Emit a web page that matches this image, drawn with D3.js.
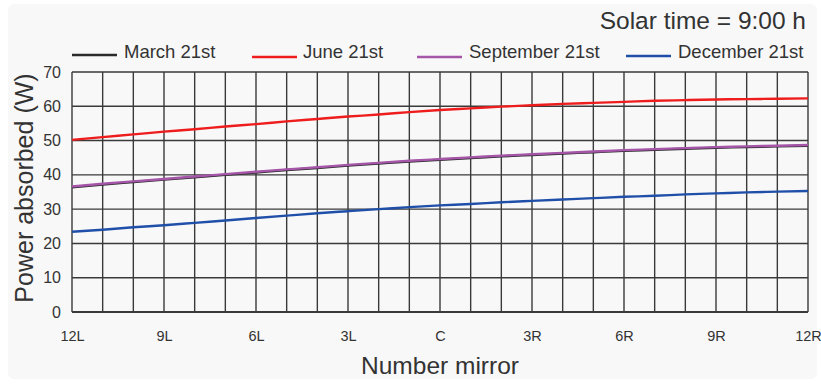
<!DOCTYPE html>
<html>
<head>
<meta charset="utf-8">
<script src="https://cdn.jsdelivr.net/npm/d3@7"></script>
<style>
  html, body { margin: 0; padding: 0; background: #ffffff; }
  svg { display: block; font-family: "Liberation Sans", Arial, sans-serif; }
</style>
</head>
<body>
<svg id="chart" width="821" height="384"></svg>
<script>
// Mirror positions, left wing to right wing
const mirrors = ["12L","11L","10L","9L","8L","7L","6L","5L","4L","3L","2L","1L","C",
                 "1R","2R","3R","4R","5R","6R","7R","8R","9R","10R","11R","12R"];
const xTickLabels = ["12L","9L","6L","3L","C","3R","6R","9R","12R"];
const yTicks = [0, 10, 20, 30, 40, 50, 60, 70];

// Absorbed power (W) per mirror at solar time 9:00 h
const march = [36.4,37.2,37.9,38.6,39.3,40.0,40.7,41.4,42.0,42.7,43.3,43.9,44.4,
               44.9,45.4,45.8,46.2,46.6,47.0,47.3,47.6,47.9,48.1,48.3,48.5];
const june = [50.2,51.0,51.8,52.6,53.3,54.1,54.8,55.6,56.3,57.0,57.6,58.3,58.9,
              59.4,59.9,60.3,60.7,61.0,61.3,61.6,61.8,62.0,62.1,62.2,62.3];
const september = [36.6,37.4,38.1,38.8,39.5,40.2,40.9,41.6,42.2,42.9,43.5,44.1,44.6,
                   45.1,45.6,46.0,46.4,46.8,47.2,47.5,47.8,48.1,48.3,48.5,48.7];
const december = [23.4,24.0,24.7,25.3,26.0,26.7,27.4,28.1,28.8,29.4,30.0,30.6,31.1,
                  31.5,32.0,32.4,32.8,33.2,33.6,33.9,34.3,34.6,34.9,35.1,35.3];

const seriesNames = ["March 21st", "June 21st", "September 21st", "December 21st"];
const seriesColors = ["#2b2b2b", "#ee1c1c", "#a556a8", "#1f4fa8"];
const seriesValues = [march, june, september, december];

const svg = d3.select("#chart");
const W = 821, H = 384;
const margin = { left: 72, right: 13, top: 72, bottom: 72 };
const plotW = W - margin.left - margin.right;
const plotH = H - margin.top - margin.bottom;

// Panel background
svg.append("rect")
  .attr("x", 8).attr("y", 4).attr("width", W - 12).attr("height", H - 9)
  .attr("rx", 6).attr("fill", "#f8f8f8");

const x = d3.scalePoint().domain(mirrors).range([0, plotW]);
const y = d3.scaleLinear().domain([0, 70]).range([plotH, 0]);

const g = svg.append("g").attr("transform", `translate(${margin.left},${margin.top})`);

// Vertical grid: one line per mirror
g.append("g")
  .selectAll("line")
  .data(mirrors)
  .join("line")
  .attr("x1", d => x(d)).attr("x2", d => x(d))
  .attr("y1", 0).attr("y2", plotH)
  .attr("stroke", "#3a3a3a").attr("stroke-width", 1.4);

// Horizontal grid
g.append("g")
  .selectAll("line")
  .data(yTicks)
  .join("line")
  .attr("x1", 0).attr("x2", plotW)
  .attr("y1", d => y(d)).attr("y2", d => y(d))
  .attr("stroke", "#3a3a3a").attr("stroke-width", d => d === 0 ? 2 : 1.4);

// Y axis labels
const yAxis = d3.axisLeft(y).tickValues(yTicks).tickSize(0).tickPadding(11);
g.append("g").call(yAxis)
  .call(s => s.select(".domain").remove())
  .call(s => s.selectAll("text").attr("fill", "#333").attr("font-size", 16)
    .attr("font-family", "Liberation Sans, Arial, sans-serif"));

// X axis labels
const xAxis = d3.axisBottom(x).tickValues(xTickLabels).tickSize(0).tickPadding(19);
g.append("g").attr("transform", `translate(0,${plotH})`).call(xAxis)
  .call(s => s.select(".domain").remove())
  .call(s => s.selectAll("text").attr("fill", "#333").attr("font-size", 14.5)
    .attr("font-family", "Liberation Sans, Arial, sans-serif"));

// Series lines
const line = d3.line()
  .x((d, i) => x(mirrors[i]))
  .y(d => y(d))
  .curve(d3.curveMonotoneX);

seriesValues.forEach((vals, k) => {
  g.append("path")
    .datum(vals)
    .attr("fill", "none")
    .attr("stroke", seriesColors[k])
    .attr("stroke-width", 2.4)
    .attr("d", line);
});

// Axis titles
svg.append("text")
  .attr("x", 440).attr("y", 374)
  .attr("text-anchor", "middle")
  .attr("font-size", 24.5).attr("fill", "#333")
  .text("Number mirror");

svg.append("text")
  .attr("transform", "translate(33,188) rotate(-90)")
  .attr("text-anchor", "middle")
  .attr("font-size", 25).attr("fill", "#333")
  .text("Power absorbed (W)");

// Title
svg.append("text")
  .attr("x", 806).attr("y", 29)
  .attr("text-anchor", "end")
  .attr("font-size", 24.5).attr("fill", "#333")
  .text("Solar time = 9:00 h");

// Legend
const legendLineX = [72, 252, 417, 626];
const legendLineY = [55, 57, 57, 56];
const legendTextX = [124, 303, 469, 678];
const lg = svg.append("g");
seriesNames.forEach((name, k) => {
  lg.append("line")
    .attr("x1", legendLineX[k]).attr("x2", legendLineX[k] + 45)
    .attr("y1", legendLineY[k]).attr("y2", legendLineY[k])
    .attr("stroke", seriesColors[k]).attr("stroke-width", 2.4);
  lg.append("text")
    .attr("x", legendTextX[k]).attr("y", 58)
    .attr("font-size", 18.5).attr("fill", "#333")
    .text(name);
});
</script>
</body>
</html>
